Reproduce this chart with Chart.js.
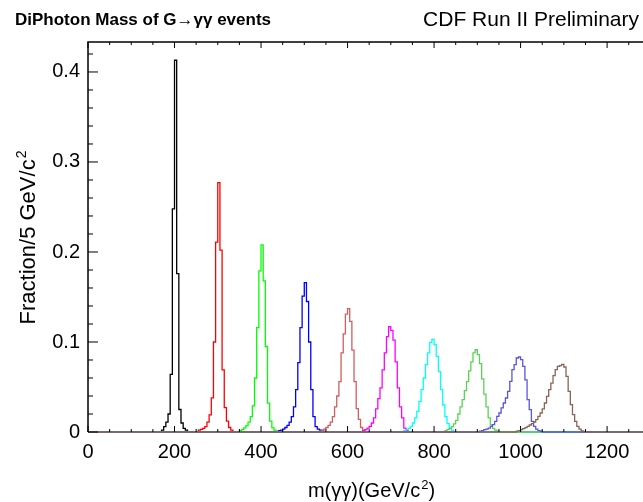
<!DOCTYPE html>
<html>
<head>
<meta charset="utf-8">
<script src="https://cdn.jsdelivr.net/npm/chart.js@4.4.1/dist/chart.umd.min.js"></script>
<style>
  body { margin: 0; background: #fff; }
  #wrap { width: 643px; height: 502px; position: relative; }
</style>
</head>
<body>
<div id="wrap"><canvas id="myChart"></canvas></div>
<script>
// graviton masses (GeV/c^2) and the low edge of the first filled 5 GeV bin
const masses = [200, 300, 400, 500, 600, 700, 800, 900, 1000, 1100];
const lowEdges = [170, 255, 350, 440, 540, 635, 730, 825, 905, 990];

// fraction per 5 GeV bin
const h200 = [0.002, 0.006, 0.011, 0.020, 0.064, 0.248, 0.413, 0.176, 0.025, 0.010, 0.004, 0.002];
const h300 = [0.002, 0.003, 0.004, 0.006, 0.011, 0.019, 0.038, 0.100, 0.211, 0.277, 0.202, 0.069, 0.027, 0.012, 0.005, 0.002];
const h400 = [0.0015, 0.0026, 0.0045, 0.007, 0.011, 0.017, 0.029, 0.060, 0.116, 0.179, 0.208, 0.168, 0.095, 0.032, 0.012, 0.0045, 0.002];
const h500 = [0.0015, 0.002, 0.0033, 0.005, 0.0074, 0.011, 0.017, 0.028, 0.047, 0.077, 0.116, 0.151, 0.166, 0.145, 0.100, 0.047, 0.017, 0.006, 0.0033, 0.002, 0.001];
const h600 = [0.002, 0.0033, 0.005, 0.0074, 0.011, 0.017, 0.028, 0.040, 0.056, 0.088, 0.109, 0.131, 0.137, 0.123, 0.091, 0.056, 0.026, 0.014, 0.005, 0.002];
const h700 = [0.0015, 0.0026, 0.0044, 0.0063, 0.010, 0.0156, 0.0256, 0.037, 0.049, 0.069, 0.088, 0.106, 0.117, 0.113, 0.102, 0.078, 0.049, 0.028, 0.0156, 0.0044, 0.0015];
const h800 = [0.0015, 0.0026, 0.004, 0.0063, 0.010, 0.0156, 0.023, 0.034, 0.047, 0.060, 0.0748, 0.088, 0.0996, 0.103, 0.097, 0.084, 0.067, 0.047, 0.030, 0.017, 0.0093, 0.0044, 0.002];
const h900 = [0.0015, 0.003, 0.004, 0.006, 0.009, 0.013, 0.020, 0.028, 0.036, 0.046, 0.056, 0.068, 0.078, 0.088, 0.0914, 0.086, 0.076, 0.059, 0.042, 0.028, 0.0156, 0.008, 0.004, 0.002, 0.001];
const h1000 = [0.001, 0.0015, 0.0026, 0.0033, 0.0044, 0.0063, 0.0081, 0.0119, 0.0174, 0.0211, 0.0267, 0.0322, 0.0378, 0.0452, 0.0563, 0.0693, 0.0748, 0.0822, 0.0833, 0.0804, 0.073, 0.058, 0.036, 0.0248, 0.0119, 0.0063, 0.0033, 0.0015, 0.001];
const h1100 = [0.001, 0.0015, 0.0026, 0.0037, 0.0048, 0.0063, 0.0078, 0.0093, 0.0111, 0.0137, 0.0174, 0.0211, 0.0256, 0.0322, 0.0396, 0.047, 0.0544, 0.0626, 0.0693, 0.073, 0.0737, 0.0752, 0.0722, 0.0619, 0.0452, 0.0304, 0.0193, 0.0119, 0.0063, 0.0033, 0.0011];
const hists = [h200, h300, h400, h500, h600, h700, h800, h900, h1000, h1100];

const binWidth = 5;
const xMin = 0, xMax = 1283, histEnd = 1300;
const yMin = 0, yMax = 0.4333;
const xLabelStep = 200, xMinorStep = 50;
const yLabelStep = 0.1, yMinorStep = 0.02;

const colors = ['#000000', '#ff0000', '#00ff00', '#0000ff', '#cf5e61',
  '#ff00ff', '#00ffff', '#59d454', '#5954d9', '#876657'];

// histogram as step line: each point is a bin low edge
function toSteps(lo, vals) {
  const pts = [{x: xMin, y: 0}];
  vals.forEach((v, i) => pts.push({x: lo + i * binWidth, y: v}));
  pts.push({x: lo + vals.length * binWidth, y: 0});
  pts.push({x: histEnd, y: 0});
  return pts;
}

const FONT = '"Liberation Sans", Arial, Helvetica, sans-serif';

function drawSup(ctx, parts, x, y, size, align) {
  // parts: [text, superscript, tail]
  ctx.font = `${size}px ${FONT}`;
  const w1 = ctx.measureText(parts[0]).width;
  ctx.font = `${Math.round(size * 0.65)}px ${FONT}`;
  const w2 = ctx.measureText(parts[1]).width;
  ctx.font = `${size}px ${FONT}`;
  const w3 = ctx.measureText(parts[2] || '').width;
  let x0 = x;
  if (align === 'center') x0 = x - (w1 + w2 + w3) / 2;
  ctx.textAlign = 'left';
  ctx.fillText(parts[0], x0, y);
  ctx.font = `${Math.round(size * 0.65)}px ${FONT}`;
  ctx.fillText(parts[1], x0 + w1 + 1, y - size * 0.42);
  ctx.font = `${size}px ${FONT}`;
  ctx.fillText(parts[2] || '', x0 + w1 + w2 + 1, y);
}

const frame = {
  id: 'frame',
  afterDatasetsDraw(chart) {
    const {ctx, chartArea: a, scales: {x, y}} = chart;
    ctx.save();
    ctx.strokeStyle = '#000';
    ctx.lineWidth = 1.5;
    ctx.beginPath();
    ctx.moveTo(a.right + 2, a.top);
    ctx.lineTo(a.left, a.top);
    ctx.lineTo(a.left, a.bottom);
    ctx.stroke();
    ctx.lineWidth = 1;
    ctx.beginPath();
    for (let v = xMin; v <= xMax; v += xMinorStep) {
      const px = x.getPixelForValue(v);
      const len = v % xLabelStep === 0 ? 6 : 3;
      ctx.moveTo(px, a.bottom); ctx.lineTo(px, a.bottom - len);
      ctx.moveTo(px, a.top); ctx.lineTo(px, a.top + len);
    }
    for (let i = 0; i * yMinorStep <= yMax; i++) {
      const py = y.getPixelForValue(i * yMinorStep);
      const len = i % 5 === 0 ? 10 : 5;
      ctx.moveTo(a.left, py); ctx.lineTo(a.left + len, py);
    }
    ctx.stroke();
    ctx.restore();
  },
  afterDraw(chart) {
    const {ctx} = chart;
    ctx.save();
    ctx.fillStyle = '#000';
    ctx.textBaseline = 'alphabetic';
    ctx.font = `bold 17px ${FONT}`;
    ctx.textAlign = 'left';
    ctx.fillText('DiPhoton Mass of G\u2192\u03b3\u03b3 events', 15, 25);
    ctx.font = `21px ${FONT}`;
    ctx.textAlign = 'right';
    ctx.fillText('CDF Run II Preliminary', 639, 26);
    // x axis title
    drawSup(ctx, ['m(\u03b3\u03b3)(GeV/c', '2', ')'], 371, 497, 20, 'center');
    // y axis title
    ctx.translate(35, 238);
    ctx.rotate(-Math.PI / 2);
    drawSup(ctx, ['Fraction/5 GeV/c', '2'], 0, 0, 22, 'center');
    ctx.restore();
  }
};

const ctx = document.getElementById('myChart');
new Chart(ctx, {
  type: 'line',
  data: {
    datasets: hists.map((h, i) => ({
      label: `M = ${masses[i]}`,
      data: toSteps(lowEdges[i], h),
      borderColor: colors[i],
      borderWidth: 1.3,
      stepped: true,
      pointRadius: 0,
      fill: false,
      clip: false,
      order: hists.length - i
    }))
  },
  options: {
    responsive: true,
    maintainAspectRatio: false,
    animation: false,
    layout: {padding: {top: 42, left: 0, right: 0, bottom: 0}},
    plugins: {legend: {display: false}, tooltip: {enabled: false}},
    scales: {
      x: {
        type: 'linear',
        min: xMin,
        max: xMax,
        afterFit: (s) => { s.height = 70; },
        grid: {display: false, drawTicks: false},
        border: {display: false},
        ticks: {
          stepSize: xLabelStep,
          includeBounds: false,
          autoSkip: false,
          maxRotation: 0,
          padding: 8,
          color: '#000',
          font: {family: FONT, size: 20},
          callback: (v) => String(v)
        }
      },
      y: {
        min: yMin,
        max: yMax,
        afterFit: (s) => { s.width = 88; },
        grid: {display: false, drawTicks: false},
        border: {display: false},
        ticks: {
          stepSize: yLabelStep,
          includeBounds: false,
          padding: 8,
          color: '#000',
          font: {family: FONT, size: 20},
          callback: (v) => String(Math.round(v * 10) / 10)
        }
      }
    }
  },
  plugins: [frame]
});
</script>
</body>
</html>
